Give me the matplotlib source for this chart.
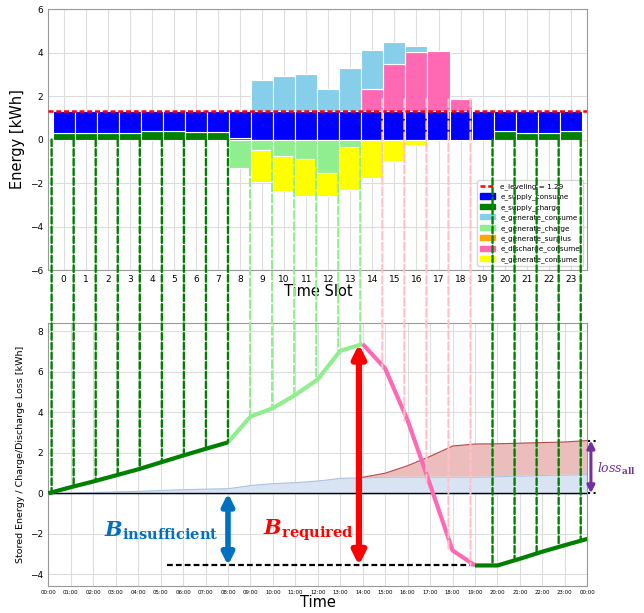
import numpy as np
import matplotlib
matplotlib.use('Agg')
import matplotlib.pyplot as plt
from matplotlib.patches import ConnectionPatch, Patch
from matplotlib.lines import Line2D
from matplotlib.transforms import blended_transform_factory

plt.rcParams['font.family'] = ['DejaVu Sans']
plt.rcParams['mathtext.fontset'] = 'dejavuserif'

# ---------------- data (top chart) ----------------
slots = list(range(24))
e_leveling = 1.29
e_supply_charge = [0.32, 0.29, 0.32, 0.32, 0.37, 0.37, 0.34, 0.34, 0.05, 0, 0, 0,
                   0, 0, 0, 0, 0, 0, 0, 0, 0.37, 0.32, 0.32, 0.37]
e_supply_consume = [0.97, 1.00, 0.97, 0.97, 0.92, 0.92, 0.95, 0.95, 1.24, 1.29, 1.29, 1.29,
                    1.29, 1.29, 1.29, 1.29, 1.29, 1.29, 1.29, 1.29, 0.92, 0.97, 0.97, 0.92]
e_discharge_consume = [0] * 14 + [1.02, 2.20, 2.73, 2.79, 0.57] + [0] * 5
e_generate_consume = [0] * 9 + [1.46, 1.63, 1.71, 1.02, 1.98, 1.79, 1.01, 0.26] + [0] * 7
e_generate_charge = [0] * 8 + [1.30, 0.50, 0.75, 0.90, 1.56, 0.36] + [0] * 10
e_generate_surplus = [0] * 24

# ---------------- data (bottom chart) ----------------
hours = list(range(25))
hour_labels = [f'{h % 24:02d}:00' for h in hours]
stored_energy = [0, 0.30, 0.58, 0.88, 1.18, 1.52, 1.86, 2.19, 2.51, 3.78, 4.20, 4.85,
                 5.62, 7.03, 7.36, 6.15, 3.59, 0.42, -2.82, -3.56, -3.56, -3.23, -2.88,
                 -2.56, -2.25]
charge_loss = [0, 0.03, 0.06, 0.09, 0.12, 0.16, 0.20, 0.23, 0.25, 0.41, 0.50, 0.55,
               0.63, 0.76, 0.79, 0.81, 0.82, 0.82, 0.82, 0.82, 0.84, 0.87, 0.90, 0.92, 0.95]
loss_hours = list(range(14, 25))
total_loss = [0.79, 0.99, 1.36, 1.82, 2.33, 2.43, 2.44, 2.47, 2.50, 2.53, 2.60]
# phases: (start hour, end hour, colour)
phases = [(0, 8, 'green'), (8, 14, 'lightgreen'), (14, 19, 'hotpink'), (19, 24, 'green')]

# ---------------- figure ----------------
fig = plt.figure(figsize=(6.44, 6.13), dpi=100)
ax1 = fig.add_axes([0.075, 0.5595, 0.837, 0.4258])
ax2 = fig.add_axes([0.075, 0.0445, 0.837, 0.428])

x = np.arange(24)
sc = np.array(e_supply_charge)
scons = np.array(e_supply_consume)
dis = np.array(e_discharge_consume)
gcons = np.array(e_generate_consume)
gch = np.array(e_generate_charge)
gsur = np.array(e_generate_surplus)


def sbar(ax, vals, bottom, color):
    vals = np.asarray(vals, float)
    bottom = np.asarray(bottom, float)
    m = vals != 0
    ax.bar(x[m], vals[m], bottom=bottom[m], width=1.0, color=color,
           edgecolor='white', linewidth=0.8, zorder=2)


zero = np.zeros(24)
sbar(ax1, sc, zero, 'green')
sbar(ax1, scons, sc, 'blue')
sbar(ax1, dis, sc + scons, 'hotpink')
sbar(ax1, gcons, sc + scons + dis, 'skyblue')
sbar(ax1, -gch, zero, 'lightgreen')
sbar(ax1, -gsur, -gch, 'orange')
sbar(ax1, -gcons, -gch - gsur, 'yellow')

ax1.axhline(e_leveling, color='red', ls='--', lw=1.8, dashes=(2, 1.1), zorder=3)

ax1.set_xlim(-0.7, 23.75)
ax1.set_ylim(-6, 6)
ax1.set_xticks(slots)
ax1.set_yticks([-6, -4, -2, 0, 2, 4, 6])
ax1.tick_params(labelsize=6.5, length=0, pad=3.5)
ax1.set_xlabel('Time Slot', fontsize=10.5, labelpad=0)
ax1.set_ylabel('Energy [kWh]', fontsize=10.5)
ax1.grid(True, color='#dddddd', lw=0.8)
ax1.set_axisbelow(True)

handles = [Line2D([0], [0], color='red', ls='--', lw=1.8, dashes=(2, 1.1)),
           Patch(color='blue'), Patch(color='green'), Patch(color='skyblue'),
           Patch(color='lightgreen'), Patch(color='orange'), Patch(color='hotpink'),
           Patch(color='yellow')]
labels = [f'e_leveling = {e_leveling}', 'e_supply_consume', 'e_supply_charge',
          'e_generate_consume', 'e_generate_charge', 'e_generate_surplus',
          'e_discharge_consume', 'e_generate_consume']
ax1.legend(handles, labels, loc='lower right', fontsize=5.2, framealpha=0.8,
           borderaxespad=0.6)

# ---------------- bottom chart ----------------
ax2.fill_between(hours, 0, charge_loss, facecolor='#d8e4f3', edgecolor='#acc3e3',
                 lw=0.8, zorder=1)
ax2.fill_between(loss_hours, charge_loss[14:], total_loss, facecolor='#ebbdbd',
                 edgecolor='none', zorder=1)
ax2.plot(loss_hours, total_loss, color='#b84a4a', lw=0.8, zorder=2)
ax2.axhline(0, color='black', lw=1, zorder=2)

for h0, h1, c in phases:
    ax2.plot(hours[h0:h1 + 1], stored_energy[h0:h1 + 1], color=c, lw=3,
             solid_capstyle='butt', zorder=4)

soc_min = min(stored_energy)
soc_max = max(stored_energy)
ax2.plot([5.3, 19], [soc_min, soc_min], color='black', lw=1.6, ls='--',
         dashes=(2.6, 1.4), zorder=3)

ax2.annotate('', xy=(8, soc_min), xytext=(8, 0),
             arrowprops=dict(arrowstyle='<|-|>', color='#0070C0', lw=4,
                             mutation_scale=17, shrinkA=0, shrinkB=0), zorder=5)
ax2.annotate('', xy=(13.83, soc_min), xytext=(13.83, soc_max),
             arrowprops=dict(arrowstyle='<|-|>', color='red', lw=4.5,
                             mutation_scale=19, shrinkA=0, shrinkB=0), zorder=5)
ax2.annotate('', xy=(24.16, 0), xytext=(24.16, total_loss[-1]),
             arrowprops=dict(arrowstyle='<|-|>', color='#7030A0', lw=2.2,
                             mutation_scale=11, shrinkA=0, shrinkB=0),
             annotation_clip=False, zorder=5)
for yv in (0, total_loss[-1]):
    ax2.plot([24.04, 24.42], [yv, yv], color='black', ls=':', lw=1.5, clip_on=False)

ax2.text(5.05, -1.84, r'$\mathbfit{B}_{\mathbf{insufficient}}$', color='#0070C0',
         fontsize=15, ha='center', va='center')
ax2.text(11.56, -1.84, r'$\mathbfit{B}_{\mathbf{required}}$', color='red',
         fontsize=15, ha='center', va='center')
ax2.text(24.42, 1.22, r'$loss_{\mathbf{all}}$', color='#7030A0', fontsize=9,
         ha='left', va='center')

ax2.set_xlim(0, 24)
ax2.set_ylim(-4.56, 8.38)
ax2.set_xticks(hours)
ax2.set_xticklabels(hour_labels)
ax2.set_yticks([-4, -2, 0, 2, 4, 6, 8])
ax2.tick_params(axis='x', labelsize=3.9, length=0, pad=3)
ax2.tick_params(axis='y', labelsize=6.5, length=0, pad=3.5)
ax2.set_xlabel('Time', fontsize=10.5, labelpad=0)
ax2.set_ylabel('Stored Energy / Charge/Discharge Loss [kWh]', fontsize=6.8)
ax2.grid(True, color='#dddddd', lw=0.8)
ax2.set_axisbelow(True)

for ax in (ax1, ax2):
    for s in ax.spines.values():
        s.set_color('#999999')

# ---------------- connecting dashed lines ----------------
pink_line_top = 1.85
btrans = blended_transform_factory(ax1.transData, ax2.transData)
for h in hours:
    if 9 <= h <= 14:
        c, ytop, lw, dash = 'lightgreen', -e_generate_charge[h - 1], 1.5, (0, (3.7, 1.6))
    elif 15 <= h <= 19:
        c, ytop, lw, dash = 'pink', pink_line_top, 1.5, (0, (3.7, 1.6))
    else:
        c, ytop, lw, dash = 'green', 0, 1.7, (0, (2.8, 1.3))
    xl = h - 0.55
    con = ConnectionPatch(xyA=(xl, ytop), coordsA=ax1.transData,
                          xyB=(xl, stored_energy[h]), coordsB=btrans,
                          color=c, lw=lw, linestyle=dash)
    fig.add_artist(con)

fig.savefig('out.png', dpi=100)
